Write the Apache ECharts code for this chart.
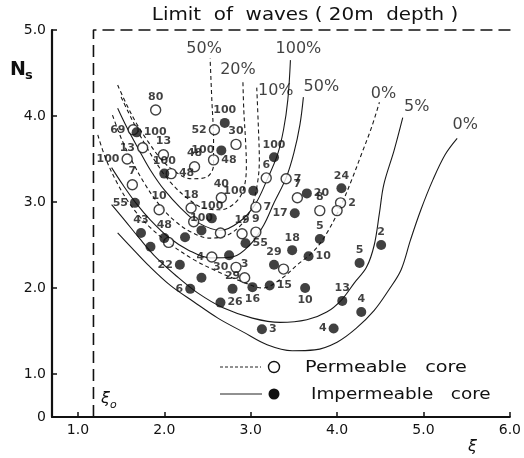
<!DOCTYPE html>
<html>
<head>
<meta charset="utf-8">
<script src="https://cdn.jsdelivr.net/npm/echarts@6.0.0/dist/echarts.min.js"></script>
<style>
  html, body { margin: 0; background: #fff; }
  #chart { width: 524px; height: 458px; }
</style>
</head>
<body>
<div id="chart"></div>
<script>
const FONT = '"DejaVu Sans", sans-serif';
const INK = '#111';

// tick labels
const xTicks = [1, 2, 3, 4, 5, 6];
// the y axis is broken below 1.0 in the figure: the lowest tick is drawn as "0"
const yTicks = [0.5, 1, 2, 3, 4, 5];
const yTickText = ['0', '1.0', '2.0', '3.0', '4.0', '5.0'];

// xi0 limit and the 20 m depth wave limit
const xi0 = 1.18;
const waveLimit = 5.0;

// permeable core (open circles): [xi, Ns], damage label, label side
const openPts = [
  [1.90, 4.07], [1.64, 3.84], [1.75, 3.63], [1.99, 3.55], [1.57, 3.50], [2.08, 3.33], [2.35, 3.41], [1.63, 3.20], [1.94, 2.91],
  [2.58, 3.84], [2.83, 3.67], [2.57, 3.49], [2.66, 3.05], [2.31, 2.93], [3.18, 3.28], [3.41, 3.27], [3.54, 3.05], [3.06, 2.94],
  [3.80, 2.90], [4.04, 2.99], [4.00, 2.90], [2.90, 2.63], [3.06, 2.65], [2.65, 2.64], [2.34, 2.77], [2.55, 2.36], [2.83, 2.24],
  [2.93, 2.12], [3.38, 2.22], [2.05, 2.53]
];
const openLbl = ['80', '69', '13', '13', '100', '48', '48', '7', '10', '52', '30', '48', '40', '18', '6', '7', '7', '7',
  '8', '2', '', '19', '9', '', '', '4', '30', '3', '', ''];
const openSide = ['top', 'left', 'left', 'top', 'left', 'right', 'top', 'top', 'top', 'left', 'top', 'right', 'top', 'top', 'top', 'right', 'top', 'right',
  'top', 'right', 'top', 'top', 'top', 'top', 'top', 'left', 'left', 'top', 'top', 'top'];

// impermeable core (filled circles)
const fillPts = [
  [1.68, 3.81], [2.70, 3.92], [2.66, 3.60], [2.00, 3.33], [3.27, 3.52], [3.03, 3.13], [2.55, 2.81], [1.66, 2.99], [3.65, 3.10],
  [4.05, 3.16], [3.51, 2.87], [2.94, 2.52], [3.48, 2.44], [3.80, 2.57], [3.67, 2.37], [3.27, 2.27], [3.02, 2.01], [3.22, 2.03],
  [3.63, 2.00], [4.06, 1.85], [4.28, 1.72], [4.51, 2.50], [4.26, 2.29], [3.96, 1.53], [3.13, 1.52], [1.73, 2.64], [1.84, 2.48],
  [2.00, 2.58], [2.24, 2.59], [2.43, 2.67], [2.75, 2.38], [2.18, 2.27], [2.43, 2.12], [2.79, 1.99], [2.30, 1.99], [2.65, 1.83]
];
const fillLbl = ['100', '100', '100', '100', '100', '100', '100', '55', '20', '24', '17', '55', '18', '5', '10', '29', '16', '15',
  '10', '13', '4', '2', '5', '4', '3', '43', '', '48', '', '100', '', '22', '', '29', '6', '26'];
const fillSide = ['right', 'top', 'left', 'top', 'top', 'left', 'top', 'left', 'right', 'top', 'left', 'right', 'top', 'top', 'right', 'top', 'bottom', 'right',
  'bottom', 'top', 'top', 'top', 'top', 'left', 'right', 'top', 'top', 'top', 'top', 'top', 'top', 'left', 'top', 'top', 'left', 'right'];

// damage contours (last point = labelled top end)
const dash50 = [[1.46, 4.36], [1.56, 4.14], [1.68, 3.91], [1.82, 3.69], [1.97, 3.49], [2.13, 3.35], [2.31, 3.27], [2.49, 3.29], [2.57, 3.43], [2.57, 3.72], [2.55, 4.19], [2.53, 4.67]];
const dash20 = [[1.50, 4.22], [1.63, 3.95], [1.76, 3.70], [1.91, 3.45], [2.07, 3.23], [2.26, 3.05], [2.45, 2.93], [2.65, 2.91], [2.82, 2.99], [2.92, 3.16], [2.95, 3.43], [2.94, 3.72], [2.92, 4.07], [2.91, 4.40]];
const dash10 = [[1.40, 4.01], [1.51, 3.72], [1.64, 3.45], [1.78, 3.20], [1.94, 2.97], [2.11, 2.79], [2.31, 2.65], [2.53, 2.58], [2.74, 2.62], [2.92, 2.77], [3.02, 2.97], [3.08, 3.23], [3.10, 3.49], [3.09, 3.84], [3.07, 4.33]];
const dash0 = [[1.23, 3.78], [1.32, 3.51], [1.46, 3.21], [1.62, 2.95], [1.82, 2.72], [2.07, 2.51], [2.34, 2.33], [2.62, 2.19], [2.91, 2.07], [3.14, 2.00], [3.37, 2.12], [3.54, 2.27], [3.74, 2.44], [3.90, 2.67], [4.05, 2.97], [4.17, 3.26], [4.28, 3.55], [4.40, 3.87], [4.49, 4.16]];
const solid100 = [[1.46, 4.09], [1.57, 3.86], [1.71, 3.60], [1.84, 3.37], [2.00, 3.14], [2.19, 2.93], [2.39, 2.76], [2.65, 2.67], [2.87, 2.77], [3.05, 2.97], [3.19, 3.26], [3.31, 3.55], [3.38, 3.84], [3.43, 4.19], [3.46, 4.65]];
const solid50 = [[1.39, 3.40], [1.52, 3.20], [1.67, 2.99], [1.84, 2.79], [2.05, 2.59], [2.28, 2.44], [2.53, 2.35], [2.79, 2.36], [2.99, 2.50], [3.15, 2.73], [3.27, 2.99], [3.41, 3.28], [3.50, 3.57], [3.57, 3.90], [3.61, 4.22]];
const solid5 = [[1.39, 2.97], [1.54, 2.79], [1.71, 2.58], [1.91, 2.35], [2.14, 2.14], [2.39, 1.94], [2.68, 1.77], [3.02, 1.65], [3.34, 1.60], [3.65, 1.63], [3.88, 1.72], [4.05, 1.86], [4.20, 2.06], [4.34, 2.24], [4.43, 2.50], [4.49, 2.87], [4.54, 3.20], [4.66, 3.60], [4.76, 3.98]];
const solid0 = [[1.46, 2.64], [1.62, 2.47], [1.82, 2.26], [2.07, 2.03], [2.34, 1.84], [2.62, 1.65], [2.91, 1.49], [3.19, 1.34], [3.48, 1.27], [3.74, 1.28], [4.00, 1.37], [4.22, 1.53], [4.43, 1.74], [4.60, 1.98], [4.74, 2.21], [4.85, 2.56], [4.97, 2.91], [5.11, 3.26], [5.25, 3.55], [5.39, 3.74]];

const contours = [
  { name: '50%', pts: dash50, dashed: true, off: [-6, 3] },
  { name: '20%', pts: dash20, dashed: true, off: [-5, 1] },
  { name: '10%', pts: dash10, dashed: true, off: [19, 16] },
  { name: '0%', pts: dash0, dashed: true, off: [4, 4] },
  { name: '100%', pts: solid100, dashed: false, off: [8, 1] },
  { name: '50%', pts: solid50, dashed: false, off: [18, 2] },
  { name: '5%', pts: solid5, dashed: false, off: [14, 2] },
  { name: '0%', pts: solid0, dashed: false, off: [8, -1] }
];

function pointData(pts, lbl, side) {
  return pts.map((p, i) => ({ value: p, name: lbl[i], label: { position: side[i] } }));
}

const pointLabel = {
  show: true, formatter: '{b}', fontSize: 11, fontWeight: 'bold', fontFamily: FONT, color: INK, distance: 2
};

const series = contours.map(c => ({
  type: 'line',
  data: c.pts,
  showSymbol: false,
  smooth: 0.35,
  silent: true,
  z: 2,
  lineStyle: { color: '#1a1a1a', width: 1.1, type: c.dashed ? [4, 3] : 'solid' }
}));

// contour names at their top ends
series.push({
  type: 'scatter',
  silent: true,
  symbolSize: 1,
  itemStyle: { color: 'rgba(0,0,0,0)' },
  data: contours.map(c => ({
    value: c.pts[c.pts.length - 1],
    name: c.name,
    label: { offset: c.off }
  })),
  label: { show: true, position: 'top', formatter: '{b}', fontSize: 16, fontFamily: FONT, color: INK, distance: 4 },
  z: 3
});

series.push({
  type: 'line',
  data: [[xi0, 0.5], [xi0, waveLimit], [6.1, waveLimit]],
  showSymbol: false,
  silent: true,
  clip: false,
  lineStyle: { color: INK, width: 1.6, type: [12, 6] },
  z: 2
});

series.push({
  type: 'scatter',
  data: pointData(openPts, openLbl, openSide),
  symbol: 'circle',
  symbolSize: 10,
  itemStyle: { color: '#fff', borderColor: INK, borderWidth: 1.4 },
  label: pointLabel,
  z: 5
});

series.push({
  type: 'scatter',
  data: pointData(fillPts, fillLbl, fillSide),
  symbol: 'circle',
  symbolSize: 10,
  itemStyle: { color: INK },
  label: pointLabel,
  z: 6
});

const chart = echarts.init(document.getElementById('chart'), null, { renderer: 'canvas' });
chart.setOption({
  animation: false,
  backgroundColor: '#fff',
  textStyle: { fontFamily: FONT },
  grid: { left: 52, right: 9, top: 30, bottom: 41 },
  xAxis: {
    type: 'value',
    min: 0.7,
    max: 6.0,
    splitLine: { show: false },
    axisLine: { lineStyle: { color: INK, width: 2 } },
    axisTick: { inside: true, length: 5, customValues: xTicks, lineStyle: { color: INK, width: 1.5 } },
    axisLabel: { customValues: xTicks, formatter: v => v.toFixed(1), fontSize: 14, color: INK, margin: 6 }
  },
  yAxis: {
    type: 'value',
    min: 0.5,
    max: 5.0,
    splitLine: { show: false },
    axisLine: { lineStyle: { color: INK, width: 2.2 } },
    axisTick: { inside: true, length: 5, customValues: yTicks, lineStyle: { color: INK, width: 1.5 } },
    axisLabel: {
      customValues: yTicks,
      formatter: v => yTickText[yTicks.indexOf(v)],
      fontSize: 14, color: INK, margin: 6
    }
  },
  graphic: [
    { type: 'text', x: 305, y: 16, scaleX: 1.17, style: { text: 'Limit  of  waves ( 20m  depth )', font: '17px ' + FONT, fill: INK, align: 'center', verticalAlign: 'middle' } },
    { type: 'text', x: 10, y: 70, style: { text: 'N', font: 'bold 19px ' + FONT, fill: INK, verticalAlign: 'middle' } },
    { type: 'text', x: 25, y: 76, style: { text: 's', font: 'bold 13px ' + FONT, fill: INK, verticalAlign: 'middle' } },
    { type: 'text', x: 101, y: 399, style: { text: 'ξ', font: 'italic 16px ' + FONT, fill: INK, verticalAlign: 'middle' } },
    { type: 'text', x: 110, y: 405, style: { text: 'o', font: 'italic 11px ' + FONT, fill: INK, verticalAlign: 'middle' } },
    { type: 'text', x: 468, y: 447, style: { text: 'ξ', font: 'italic 16px ' + FONT, fill: INK, verticalAlign: 'middle' } },
    // legend
    { type: 'line', shape: { x1: 220, y1: 367, x2: 261, y2: 367 }, style: { stroke: '#222', lineWidth: 1, lineDash: [3, 2] } },
    { type: 'circle', shape: { cx: 274, cy: 367, r: 5.5 }, style: { fill: '#fff', stroke: INK, lineWidth: 1.4 } },
    { type: 'text', x: 305, y: 368, scaleX: 1.2, style: { text: 'Permeable   core', font: '16px ' + FONT, fill: INK, verticalAlign: 'middle' } },
    { type: 'line', shape: { x1: 220, y1: 394, x2: 262, y2: 394 }, style: { stroke: '#222', lineWidth: 1 } },
    { type: 'circle', shape: { cx: 274, cy: 394, r: 5.5 }, style: { fill: INK } },
    { type: 'text', x: 311, y: 395, scaleX: 1.15, style: { text: 'Impermeable   core', font: '16px ' + FONT, fill: INK, verticalAlign: 'middle' } }
  ],
  series
});
</script>
</body>
</html>
